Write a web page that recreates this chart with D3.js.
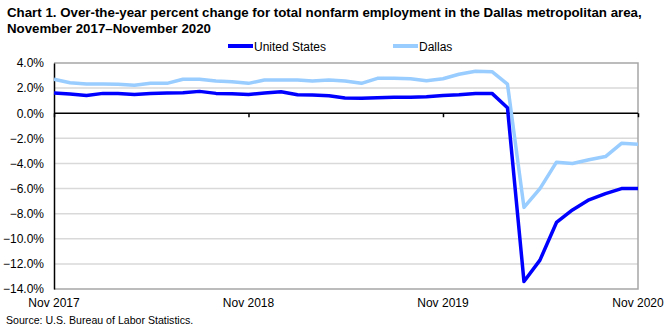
<!DOCTYPE html>
<html>
<head>
<meta charset="utf-8">
<script src="https://cdn.jsdelivr.net/npm/d3@7"></script>
<style>
  body { margin: 0; background: #fff; }
  svg { display: block; font-family: "Liberation Sans", Arial, sans-serif; }
</style>
</head>
<body>
<div id="chart"></div>
<script>
// months Nov 2017 .. Nov 2020
const months = d3.range(37).map(i => new Date(2017, 10 + i, 1));

// over-the-year percent change
const usValues = [1.61, 1.53, 1.42, 1.58, 1.58, 1.50, 1.58, 1.61, 1.63, 1.74,
                  1.58, 1.56, 1.50, 1.61, 1.71, 1.47, 1.45, 1.40, 1.22, 1.19,
                  1.24, 1.27, 1.27, 1.32, 1.42, 1.47, 1.58, 1.58, 0.44, -13.4,
                  -11.7, -8.7, -7.7, -6.9, -6.4, -6.0, -6.0];
const dallasValues = [2.70, 2.43, 2.32, 2.32, 2.30, 2.22, 2.38, 2.38, 2.70, 2.70,
                      2.56, 2.51, 2.38, 2.64, 2.64, 2.64, 2.56, 2.64, 2.56, 2.38,
                      2.78, 2.78, 2.75, 2.59, 2.75, 3.10, 3.34, 3.31, 2.32, -7.5,
                      -6.0, -3.9, -4.0, -3.7, -3.45, -2.4, -2.48];

const yTicks = [4, 2, 0, -2, -4, -6, -8, -10, -12, -14];
const xTickDates = [new Date(2017, 10, 1), new Date(2018, 10, 1), new Date(2019, 10, 1), new Date(2020, 10, 1)];
const xTickLabels = ["Nov 2017", "Nov 2018", "Nov 2019", "Nov 2020"];

const series = [
  {name: "United States", values: usValues, color: "#0000ff"},
  {name: "Dallas", values: dallasValues, color: "#99ccff"}
];

// size setup
const width = 672, height = 327;
const margins = {top: 63, right: 34, bottom: 38, left: 54};
const chartWidth = width - margins.left - margins.right;
const chartHeight = height - margins.top - margins.bottom;

const svg = d3.select("#chart").append("svg")
  .attr("width", width)
  .attr("height", height);

// title
const title = svg.append("text")
  .attr("x", 7)
  .attr("font-size", 13.3)
  .attr("font-weight", "bold")
  .attr("fill", "#000");
title.append("tspan").attr("x", 7).attr("y", 17)
  .text("Chart 1. Over-the-year percent change for total nonfarm employment in the Dallas metropolitan area,");
title.append("tspan").attr("x", 7).attr("y", 33)
  .text("November 2017\u2013November 2020");

// scales
const xScale = d3.scaleTime()
  .domain([months[0], months[months.length - 1]])
  .range([0, chartWidth]);
const yScale = d3.scaleLinear()
  .domain([-14, 4])
  .range([chartHeight, 0]);

const cht = svg.append("g")
  .attr("transform", "translate(" + margins.left + "," + margins.top + ")");

// gridlines
cht.append("g").selectAll("line")
  .data(yTicks.filter(d => d !== 0 && d !== 4 && d !== -14))
  .join("line")
  .attr("x1", 0).attr("x2", chartWidth)
  .attr("y1", d => yScale(d)).attr("y2", d => yScale(d))
  .attr("stroke", "#d9d9d9")
  .attr("stroke-width", 1.5);

// plot frame (top, right, bottom)
cht.append("path")
  .attr("d", "M0," + yScale(4) + "H" + chartWidth + "V" + yScale(-14) + "H0")
  .attr("fill", "none")
  .attr("stroke", "#a6a6a6")
  .attr("stroke-width", 1.5);

// y axis
const yAxis = d3.axisLeft(yScale)
  .tickValues(yTicks)
  .tickSize(0)
  .tickPadding(10)
  .tickFormat(d => d3.format(".1f")(d) + "%");
const axiY = cht.append("g").call(yAxis);
axiY.select(".domain").attr("stroke", "#000").attr("stroke-width", 1.5);
axiY.selectAll("text")
  .attr("font-size", 12)
  .attr("font-family", "\"Liberation Sans\", Arial, sans-serif")
  .attr("fill", "#000");

// x axis along zero line
const xAxis = d3.axisBottom(xScale)
  .tickValues(xTickDates)
  .tickSize(4)
  .tickFormat("");
const axiX = cht.append("g")
  .attr("transform", "translate(0," + yScale(0) + ")")
  .call(xAxis);
axiX.select(".domain").attr("stroke", "#000").attr("stroke-width", 1.5)
  .attr("d", "M0,0H" + chartWidth);
axiX.selectAll(".tick line").attr("stroke", "#000").attr("stroke-width", 1.5);

// x labels below plot
cht.append("g").selectAll("text")
  .data(xTickDates)
  .join("text")
  .attr("x", d => xScale(d))
  .attr("y", chartHeight + 18)
  .attr("text-anchor", "middle")
  .attr("font-size", 12)
  .attr("fill", "#000")
  .text((d, i) => xTickLabels[i]);

// lines
const line = d3.line()
  .x((d, i) => xScale(months[i]))
  .y(d => yScale(d));

cht.selectAll("path.series")
  .data(series.slice().reverse())
  .join("path")
  .attr("class", "series")
  .attr("d", d => line(d.values))
  .attr("fill", "none")
  .attr("stroke", d => d.color)
  .attr("stroke-width", 3.5)
  .attr("stroke-linejoin", "round");

// legend
const legendX = [228, 393];
const legend = svg.append("g").selectAll("g")
  .data(series)
  .join("g")
  .attr("transform", (d, i) => "translate(" + legendX[i] + ",46)");
legend.append("line")
  .attr("x1", 0).attr("x2", 25)
  .attr("stroke", d => d.color)
  .attr("stroke-width", 4);
legend.append("text")
  .attr("x", 26)
  .attr("y", 4.5)
  .attr("font-size", 12)
  .attr("fill", "#000")
  .text(d => d.name);

// source
svg.append("text")
  .attr("x", 6)
  .attr("y", 324)
  .attr("font-size", 10.6)
  .attr("fill", "#000")
  .text("Source: U.S. Bureau of Labor Statistics.");
</script>
</body>
</html>
